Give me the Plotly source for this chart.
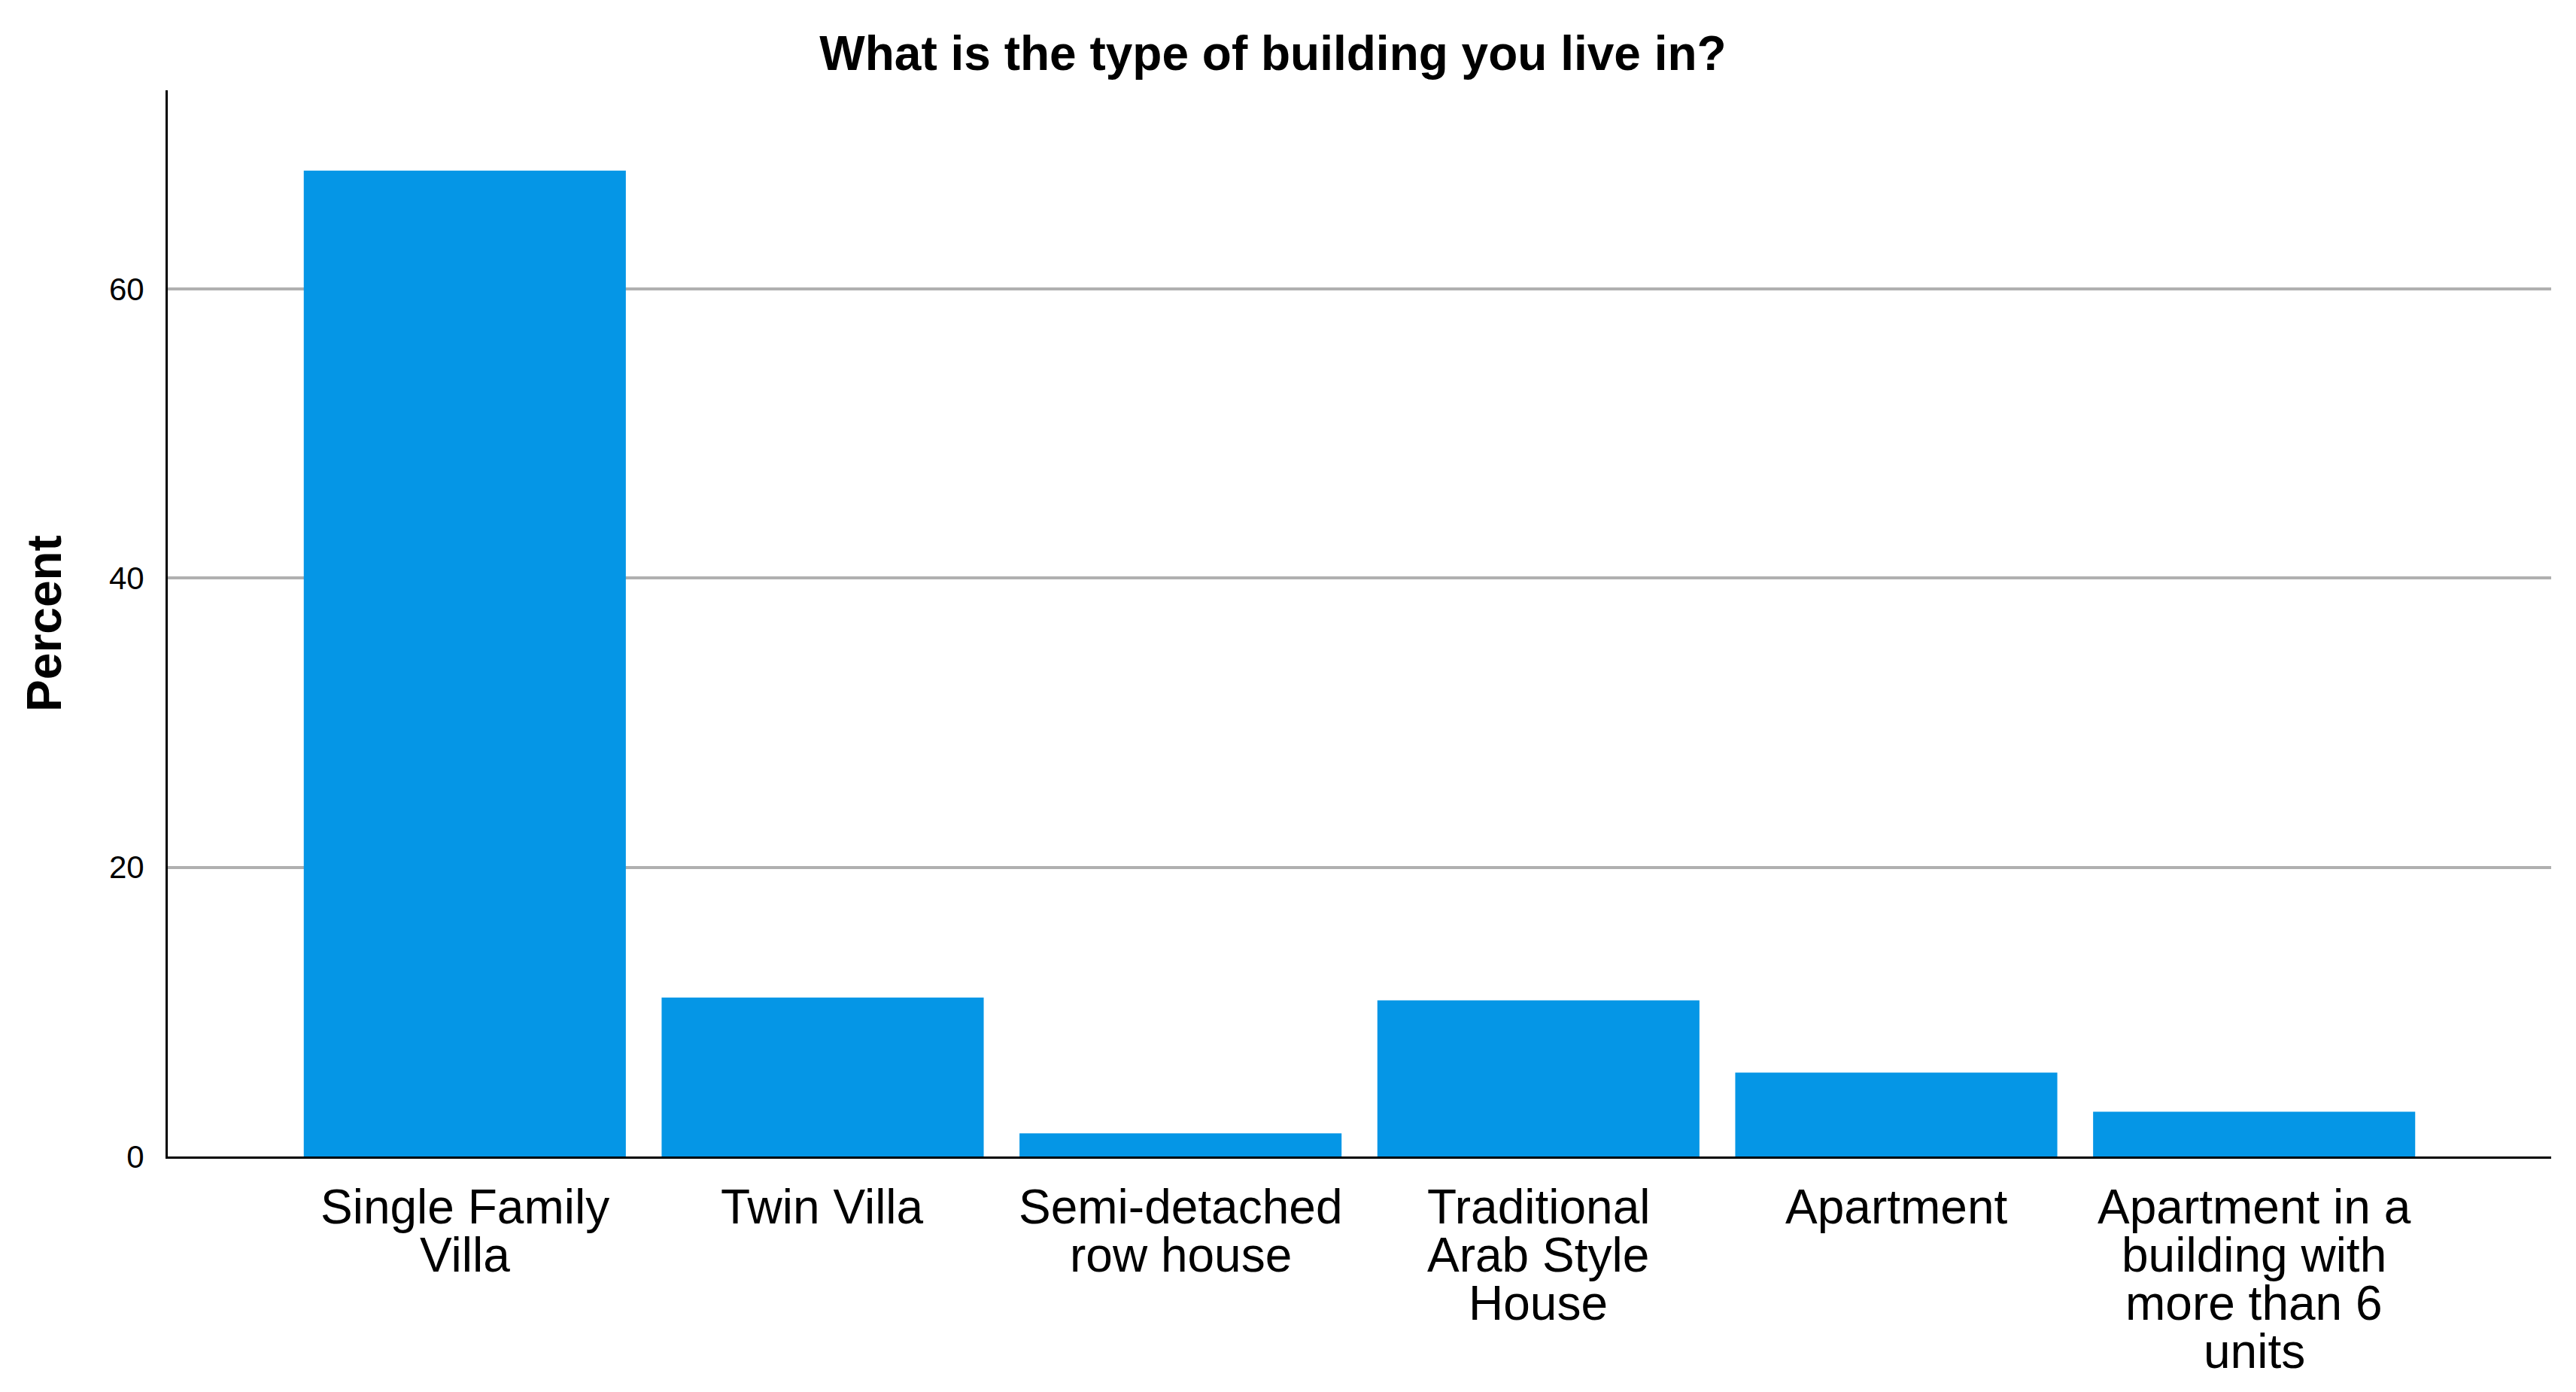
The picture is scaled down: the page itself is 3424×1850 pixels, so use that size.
import plotly.graph_objects as go

categories = [
    "Single Family<br>Villa",
    "Twin Villa",
    "Semi-detached<br>row house",
    "Traditional<br>Arab Style<br>House",
    "Apartment",
    "Apartment in a<br>building with<br>more than 6<br>units",
]
percent = [68.2, 11.0, 1.6, 10.8, 5.8, 3.1]
y_ticks = [0, 20, 40, 60]

title_text = "What is the type of building you live in?"
y_title = "Percent"

FONT = "Liberation Sans, Arial, sans-serif"
BAR = "#0596e6"

fig = go.Figure(
    go.Bar(
        x=categories,
        y=percent,
        marker=dict(color=BAR, line=dict(width=0)),
        width=0.9,
    )
)

annotations = []
for cat in categories:
    for i, line in enumerate(cat.split("<br>")):
        annotations.append(
            dict(
                x=cat, y=0, xref="x", yref="y",
                text=line, showarrow=False,
                yanchor="middle", xanchor="center",
                yshift=-67 - 64 * i,
                font=dict(family=FONT, size=64, color="black"),
            )
        )

fig.update_layout(
    width=3424, height=1850,
    paper_bgcolor="white", plot_bgcolor="white",
    margin=dict(l=215, r=41, t=112, b=321, autoexpand=False),
    showlegend=False,
    bargap=0.1,
    font=dict(family=FONT, color="black"),
    title=dict(
        text=f"<b>{title_text}</b>",
        x=1684 / 3424, xanchor="center",
        y=1 - 63 / 1850, yanchor="middle", yref="container",
        font=dict(family=FONT, size=64, color="black"),
    ),
    annotations=annotations,
)

fig.update_xaxes(
    type="category",
    range=[-0.83, 5.83],
    showticklabels=False,
    showgrid=False,
    showline=True, linecolor="black", linewidth=3,
    ticks="",
    zeroline=False,
)

fig.update_yaxes(
    range=[0, 73.75],
    tickvals=y_ticks,
    ticktext=[str(v) for v in y_ticks],
    tickfont=dict(family=FONT, size=42, color="black"),
    ticks="",
    ticklabelstandoff=20,
    showgrid=True, gridcolor="#b0b0b0", gridwidth=4,
    showline=True, linecolor="black", linewidth=3,
    zeroline=False,
    automargin=False,
    title=dict(text=f"<b>{y_title}</b>", font=dict(family=FONT, size=64, color="black"), standoff=43),
)

fig.write_html("out.html")
